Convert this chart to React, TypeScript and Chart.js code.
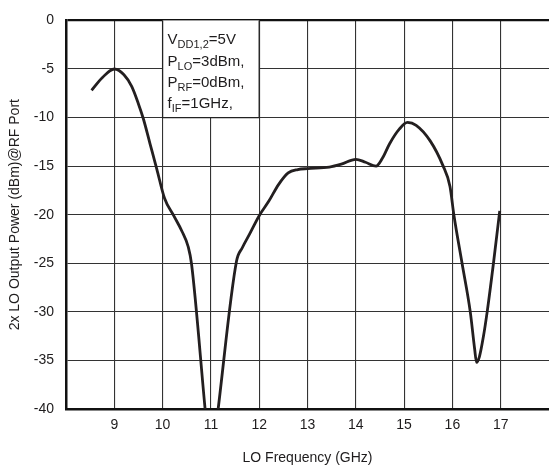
import React, { useEffect, useRef } from 'react';
import { Chart, registerables } from 'chart.js';

Chart.register(...registerables);

// LO frequency (GHz)
const freqGHz = [
  8.53, 8.75, 9.0, 9.2, 9.36, 9.5, 9.6, 9.74, 9.88, 10.04, 10.23, 10.4, 10.53, 10.6,
  10.88, 11.0, 11.15, 11.53, 11.65, 11.8, 12.0, 12.2, 12.4, 12.6, 12.8, 13.0, 13.45, 13.7,
  14.0, 14.2, 14.42, 14.55, 14.7, 14.9, 15.07, 15.25, 15.54, 15.8, 15.95, 16.03, 16.2,
  16.37, 16.46, 16.5, 16.56, 16.64, 16.72, 16.85, 16.98,
];
// 2x LO output power at RF port (dBm)
const powerDbm = [
  -7.2, -5.9, -5.0, -5.6, -6.8, -8.6, -10.1, -12.7, -15.3, -18.3, -20.1, -21.7, -23.3, -25.1,
  -40.0, -46.2, -40.0, -24.8, -23.4, -22.0, -20.1, -18.6, -16.9, -15.7, -15.35, -15.25, -15.1, -14.8,
  -14.3, -14.6, -15.0, -14.2, -12.7, -11.2, -10.5, -10.8, -12.4, -14.9, -17.1, -20.0, -25.0,
  -30.0, -33.8, -35.2, -34.6, -32.6, -30.0, -25.0, -19.6,
];
const xTicks = [9, 10, 11, 12, 13, 14, 15, 16, 17];
const yTicks = [-40, -35, -30, -25, -20, -15, -10, -5, 0];

// Condition note (segments: [text, isSubscript])
const noteLines: [string, boolean][][] = [
  [['V', false], ['DD1,2', true], ['=5V', false]],
  [['P', false], ['LO', true], ['=3dBm,', false]],
  [['P', false], ['RF', true], ['=0dBm,', false]],
  [['f', false], ['IF', true], ['=1GHz,', false]],
];
// note box extent in data units
const noteX = [10, 12];
const noteY = [0, -10];

const FONT = '"Liberation Sans", Arial, Helvetica, sans-serif';
const INK = '#1e1c1d';

const notePlugin = {
  id: 'noteBox',
  beforeDatasetsDraw(chart: any) {
    const { ctx, scales } = chart;
    const x0 = scales.x.getPixelForValue(noteX[0]);
    const x1 = scales.x.getPixelForValue(noteX[1]);
    const y0 = scales.y.getPixelForValue(noteY[0]);
    const y1 = scales.y.getPixelForValue(noteY[1]);
    ctx.save();
    ctx.fillStyle = '#ffffff';
    ctx.fillRect(x0, y0, x1 - x0, y1 - y0);
    ctx.strokeStyle = '#222';
    ctx.lineWidth = 1.3;
    ctx.beginPath();
    ctx.moveTo(x0, y0);
    ctx.lineTo(x0, y1);
    ctx.lineTo(x1, y1);
    ctx.lineTo(x1, y0);
    ctx.stroke();
    ctx.fillStyle = INK;
    ctx.textBaseline = 'alphabetic';
    ctx.textAlign = 'left';
    const lineGap = 21.3;
    noteLines.forEach((segs, i) => {
      let x = x0 + 5;
      const base = y0 + 24 + i * lineGap;
      segs.forEach(([t, sub]) => {
        ctx.font = sub ? `11px ${FONT}` : `15px ${FONT}`;
        ctx.fillText(t, x, sub ? base + 4 : base);
        x += ctx.measureText(t).width;
      });
    });
    ctx.restore();
  },
};

export default function App() {
  const ref = useRef<HTMLCanvasElement | null>(null);
  useEffect(() => {
    if (!ref.current) return;
    const chart = new Chart(ref.current, {
      type: 'line',
      data: {
        datasets: [
          {
            data: freqGHz.map((x, i) => ({ x, y: powerDbm[i] })),
            borderColor: '#231f20',
            borderWidth: 2.8,
            pointRadius: 0,
            fill: false,
            cubicInterpolationMode: 'monotone',
            clip: 0,
          } as any,
        ],
      },
      options: {
        animation: false,
        responsive: false,
        devicePixelRatio: 1,
        layout: { padding: { top: 10, right: 0, left: 0, bottom: 0 } },
        plugins: { legend: { display: false }, tooltip: { enabled: false } },
        scales: {
          x: {
            type: 'linear',
            min: 8,
            max: 18,
            afterBuildTicks: (s: any) => {
              s.ticks = xTicks.map((v) => ({ value: v }));
            },
            afterFit: (s: any) => {
              s.height = 59;
            },
            grid: { color: '#333', lineWidth: 1.1, drawTicks: false },
            border: { color: '#111', width: 2.5 },
            ticks: { color: INK, font: { size: 14, family: FONT }, padding: 8, maxRotation: 0, autoSkip: false },
            title: {
              display: true,
              text: 'LO Frequency (GHz)',
              color: INK,
              font: { size: 14, family: FONT },
              padding: { top: 0, bottom: 1 },
            },
          },
          y: {
            type: 'linear',
            min: -40,
            max: 0,
            afterBuildTicks: (s: any) => {
              s.ticks = yTicks.map((v) => ({ value: v }));
            },
            afterFit: (s: any) => {
              s.width = 66;
            },
            grid: {
              color: (c: any) => (c.tick && c.tick.value === 0 ? '#111' : '#333'),
              lineWidth: (c: any) => (c.tick && c.tick.value === 0 ? 2.2 : 1.1),
              drawTicks: false,
            },
            border: { color: '#111', width: 2.5 },
            ticks: { color: INK, font: { size: 14, family: FONT }, padding: 12, autoSkip: false },
            title: {
              display: true,
              text: '2x LO Output Power (dBm)@RF Port',
              color: INK,
              font: { size: 14, family: FONT },
              padding: { top: 7, bottom: 0 },
            },
          },
        },
      },
      plugins: [notePlugin],
    });
    return () => chart.destroy();
  }, []);
  return (
    <div style={{ position: 'absolute', left: 0, top: 0, width: 549, height: 468, background: '#fff' }}>
      <canvas ref={ref} width={549} height={468} style={{ display: 'block' }} />
    </div>
  );
}
